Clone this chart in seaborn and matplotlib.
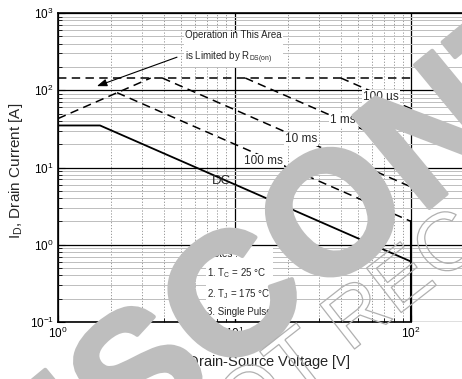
import matplotlib
matplotlib.use("Agg")
import matplotlib.pyplot as plt
import matplotlib.patheffects as pe
from matplotlib.ticker import LogLocator, NullFormatter
import seaborn as sns

# safe operating area
rds_v = [1.0, 3.35]
rds_i = [43.0, 144.0]

idm_v = [1.0, 100.0]
idm_i = [144.0, 144.0]

us100_v = [40.0, 100.0]
us100_i = [144.0, 57.6]

ms1_v = [11.5, 100.0]
ms1_i = [144.0, 16.6]

ms10_v = [3.9, 100.0]
ms10_i = [144.0, 5.6]

ms100_v = [2.16, 100.0]
ms100_i = [93.0, 2.0]

dc_v = [1.0, 1.73, 100.0]
dc_i = [35.0, 35.0, 0.605]

vdss_v = [100.0, 100.0]
vdss_i = [2.0, 0.1]

curve_labels = ["100 \u00b5s", "1 ms", "10 ms", "100 ms", "DC"]
label_v = [53.5, 34.7, 19.3, 11.3, 7.47]
label_i = [81.0, 40.8, 23.1, 12.3, 6.6]


def setup_style():
    sns.set_style("white")
    plt.rcParams["font.family"] = ["Liberation Sans", "DejaVu Sans"]
    plt.rcParams["mathtext.fontset"] = "custom"
    plt.rcParams["mathtext.rm"] = "Liberation Sans"
    plt.rcParams["mathtext.it"] = "Liberation Sans:italic"
    plt.rcParams["mathtext.bf"] = "Liberation Sans:bold"


def draw_line(ax, v, i, dashed=False, lw=1.1):
    sns.lineplot(x=v, y=i, ax=ax, color="black", lw=lw, sort=False, estimator=None)
    if dashed:
        ax.lines[-1].set_dashes((5.5, 3.5))


def main():
    setup_style()

    fig = plt.figure(figsize=(4.62, 3.79), dpi=100)
    ax = fig.add_axes([58 / 462, 57 / 379, 406.3 / 462, 309 / 379])
    ax.set_xscale("log")
    ax.set_yscale("log")
    ax.set_xlim(1, 200)
    ax.set_ylim(0.1, 1000)

    # grid: black majors, grey minors
    ax.grid(which="major", color="black", lw=0.9)
    ax.xaxis.grid(which="minor", color="#8a8a8a", ls=(0, (1.5, 2.0)), lw=0.6)
    ax.yaxis.grid(which="minor", color="#bdbdbd", ls="-", lw=0.7)
    ax.xaxis.set_minor_locator(LogLocator(base=10, subs=range(2, 10)))
    ax.yaxis.set_minor_locator(LogLocator(base=10, subs=range(2, 10)))
    ax.xaxis.set_minor_formatter(NullFormatter())
    ax.yaxis.set_minor_formatter(NullFormatter())
    ax.tick_params(which="both", direction="in", labelsize=8.5, colors="black",
                   left=True, bottom=True)
    ax.tick_params(which="major", length=5, pad=3)
    ax.tick_params(which="minor", length=3)

    for side in ["left", "bottom", "top"]:
        ax.spines[side].set_color("black")
        ax.spines[side].set_linewidth(1.2)
    ax.spines["right"].set_visible(False)
    ax.spines["bottom"].set_bounds(1, 100)

    draw_line(ax, idm_v, idm_i, dashed=True)
    draw_line(ax, rds_v, rds_i, dashed=True)
    draw_line(ax, us100_v, us100_i, dashed=True)
    draw_line(ax, ms1_v, ms1_i, dashed=True)
    draw_line(ax, ms10_v, ms10_i, dashed=True)
    draw_line(ax, ms100_v, ms100_i, dashed=True)
    draw_line(ax, dc_v, dc_i, lw=1.3)
    draw_line(ax, vdss_v, vdss_i, lw=1.5)

    for text, v, i in zip(curve_labels, label_v, label_i):
        box = None if text == "DC" else dict(facecolor="white", edgecolor="none", pad=0.6)
        ax.text(v, i, text, fontsize=8.5 if text != "DC" else 9.5, ha="left", va="center",
                bbox=box, zorder=5)

    ax.text(5.25, 600, "Operation in This Area\nis Limited by R$_\\mathregular{DS(on)}$",
            fontsize=7, ha="left", va="top", linespacing=1.9,
            bbox=dict(facecolor="white", edgecolor="none", pad=1), zorder=5)
    ax.annotate("", xy=(1.66, 113), xytext=(4.72, 268),
                arrowprops=dict(arrowstyle="-|>,head_length=0.6,head_width=0.22",
                                color="black", lw=0.8, shrinkA=0, shrinkB=0), zorder=6)

    ax.text(0.367, 0.237,
            "Notes :\n1. T$_\\mathregular{C}$ = 25 \u00b0C\n2. T$_\\mathregular{J}$ = 175 \u00b0C\n3. Single Pulse",
            transform=ax.transAxes, fontsize=7, ha="left", va="top", linespacing=1.75,
            bbox=dict(facecolor="white", edgecolor="none", pad=1), zorder=5)

    ax.set_xlabel("V$_\\mathregular{DS}$, Drain-Source Voltage [V]", fontsize=10.5)
    ax.set_ylabel("I$_\\mathregular{D}$, Drain Current [A]", fontsize=11)
    ax.xaxis.set_label_coords(0.48, -0.1)
    ax.yaxis.set_label_coords(-0.082, 0.49)

    # datasheet watermark, centred off the right edge like the page crop
    fig.text(1.033, 0.711, "DISCONTINUED", fontsize=125, fontweight="bold",
             color="#bebebe", rotation=39.5, rotation_mode="anchor",
             ha="center", va="center", zorder=20,
             path_effects=[pe.Stroke(linewidth=3, foreground="#bebebe"), pe.Normal()])
    fig.text(1.126, 0.491, "NOT RECOMMENDED", fontsize=59, color="none",
             rotation=38, rotation_mode="anchor", ha="center", va="center", zorder=21,
             path_effects=[pe.Stroke(linewidth=0.9, foreground="#b0b0b0")])

    fig.savefig("out.png", dpi=100)
    plt.close(fig)


if __name__ == "__main__":
    main()
